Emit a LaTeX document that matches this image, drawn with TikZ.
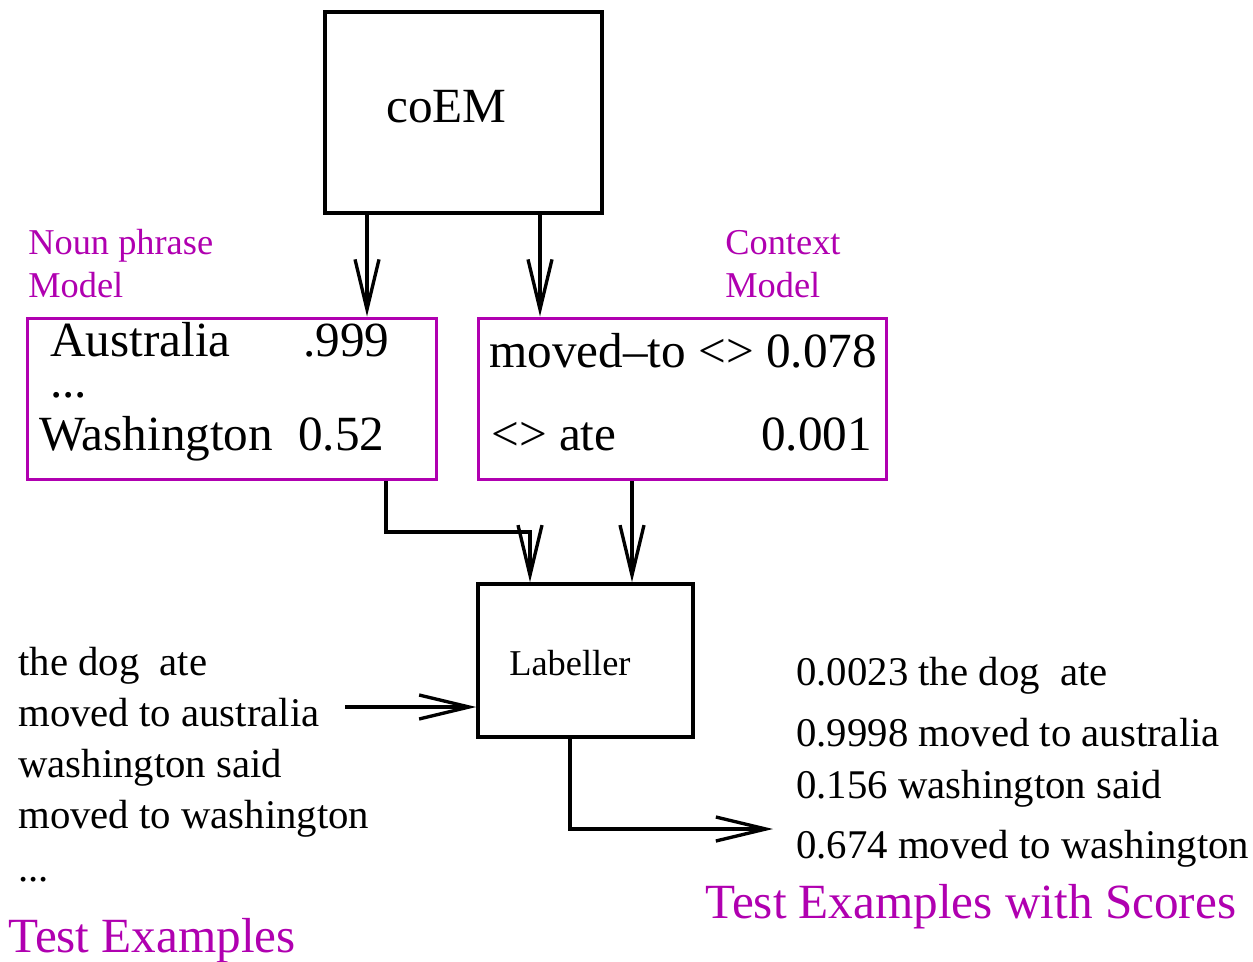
\documentclass[tikz,border=0pt]{standalone}
\usepackage{fontspec}
\setmainfont{Liberation Serif}
\usetikzlibrary{arrows.meta}
\definecolor{mag}{rgb}{0.69,0,0.69}
\begin{document}
\begin{tikzpicture}[x=0.02cm,y=-0.02cm,
  blk/.style={draw=black,line width=2pt,inner sep=0pt},
  mbox/.style={draw=mag,line width=1.7pt,inner sep=0pt},
  ln/.style={line width=1.9pt},
  arr/.style={ln,-{Straight Barb[length=1cm,width=0.48cm]}},
  txt/.style={anchor=base west,inner sep=0pt},
  big/.style={font=\fontsize{28pt}{32pt}\selectfont},
  mid/.style={font=\fontsize{23.2pt}{28pt}\selectfont},
  sml/.style={font=\fontsize{20.7pt}{24pt}\selectfont},
  ]
\useasboundingbox (0,0) rectangle (1253,962);

% boxes
\node[blk,minimum width=5.54cm,minimum height=4.02cm] (coem) at (463.5,112.5) {};
\node[mbox,minimum width=8.2cm,minimum height=3.24cm] (np) at (232,399) {};
\node[mbox,minimum width=8.18cm,minimum height=3.24cm] (cm) at (682.5,399) {};
\node[blk,minimum width=4.3cm,minimum height=3.06cm] (lab) at (585.5,660.5) {};

% box texts
\node[txt,big] (coemt) at (386,123) {coEM};
\node[txt,sml] (labt) at (509,675) {Labeller};

\node[txt,sml,text=mag] (npa) at (28,255) {Noun phrase};
\node[txt,sml,text=mag] (npb) at (28,298) {Model};
\node[txt,sml,text=mag] (cma) at (725,255) {Context};
\node[txt,sml,text=mag] (cmb) at (725,298) {Model};

\node[txt,big] (n1) at (50,357) {Australia};
\node[txt,big] (n1v) at (303,357) {.999};
\node[txt,big,text height=5pt] (n2) at (50,398) {...};
\node[txt,big] (n3) at (39,450) {Washington};
\node[txt,big] (n3v) at (298,450) {0.52};

\node[txt,big] (c1) at (489,368) {moved–to <> 0.078};
\node[txt,big] (c2) at (491,450) {<> ate};
\node[txt,big] (c2v) at (761,450) {0.001};

% test examples
\node[txt,mid] (t1) at (18,675) {the dog\ \ ate};
\node[txt,mid] (t2) at (18,726) {moved to australia};
\node[txt,mid] (t3) at (18,777) {washington said};
\node[txt,mid] (t4) at (18,828) {moved to washington};
\node[txt,mid] (t5) at (18,881) {...};
\node[txt,big,text=mag] (tlab) at (8,952) {Test Examples};

% scored examples
\node[txt,mid] (s1) at (796,685) {0.0023 the dog\ \ ate};
\node[txt,mid] (s2) at (796,746) {0.9998 moved to australia};
\node[txt,mid] (s3) at (796,798) {0.156 washington said};
\node[txt,mid] (s4) at (796,858) {0.674 moved to washington};
\node[txt,big,text=mag] (slab) at (705,918) {Test Examples with Scores};

% connectors
\coordinate (inp) at (345,707);
\coordinate (outp) at (773,829);
\coordinate (bend) at (530,532);
\draw[arr] (coem.south -| 367,0) -- (np.north -| 367,0);
\draw[arr] (coem.south -| 540,0) -- (cm.north -| 540,0);
\draw[arr] (np.south -| 386,0) |- (bend) -- (lab.north -| bend);
\draw[arr] (cm.south -| 632,0) -- (lab.north -| 632,0);
\draw[arr] (inp) -- (lab.west |- inp);
\draw[arr] (lab.south -| 570,0) |- (outp);
\end{tikzpicture}
\end{document}
